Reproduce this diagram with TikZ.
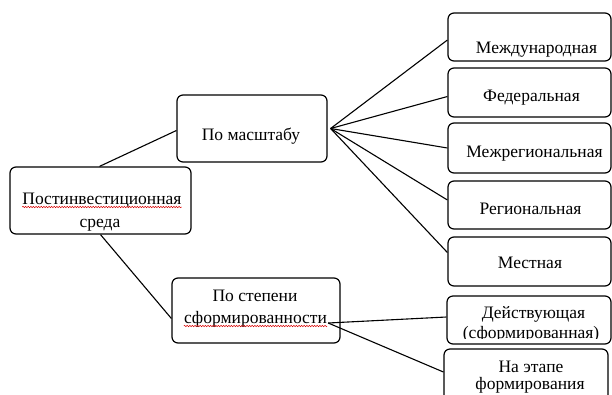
\documentclass[tikz,border=0pt]{standalone}
\usepackage{fontspec}
\setmainfont{Liberation Serif}
\usetikzlibrary{decorations.pathmorphing}
\tikzset{
  box/.style={draw=black, line width=1.2pt, rounded corners=6pt, inner sep=0pt},
  lbl/.style={anchor=base, inner sep=0pt, font=\fontsize{17.5pt}{21pt}\selectfont},
  link/.style={draw=black, line width=1.1pt},
  spell/.style={draw=red!85!black, line width=0.5pt, decorate,
    decoration={snake, amplitude=0.7pt, segment length=2.6pt}}
}
\begin{document}
\begin{tikzpicture}[x=1pt,y=-1pt]
\useasboundingbox (0,0) rectangle (612,394);
\clip (0,0) rectangle (612,394);

% boxes
\node[box, minimum width=181pt, minimum height=67pt] (root) at (100.5,200.5) {};
\node[box, minimum width=150pt, minimum height=67pt] (mas) at (252,128.5) {};
\node[box, minimum width=168pt, minimum height=65pt] (stp) at (256,310.5) {};
\node[box, minimum width=163pt, minimum height=48pt] (r1) at (529.5,37) {};
\node[box, minimum width=163pt, minimum height=49pt] (r2) at (529.5,92.5) {};
\node[box, minimum width=163pt, minimum height=50pt] (r3) at (529.5,148) {};
\node[box, minimum width=163pt, minimum height=48pt] (r4) at (529.5,205) {};
\node[box, minimum width=163pt, minimum height=49pt] (r5) at (529.5,261.5) {};
\node[box, minimum width=164pt, minimum height=48pt] (d1) at (529,320) {};
\node[box, minimum width=164pt, minimum height=54pt] (d2) at (526,376) {};

% labels
\node[lbl] (t0a) at (102,204) {Постинвестиционная};
\node[lbl] (t0b) at (100,227) {среда};
\node[lbl] (t1) at (251,140) {По масштабу};
\node[lbl] (t2a) at (255,301) {По степени};
\node[lbl] (t2b) at (255.5,323) {сформированности};
\node[lbl] (tr1) at (536.5,53) {Международная};
\node[lbl] (tr2) at (531.5,101) {Федеральная};
\node[lbl] (tr3) at (534.5,157) {Межрегиональная};
\node[lbl] (tr4) at (530.5,214) {Региональная};
\node[lbl] (tr5) at (530,268) {Местная};
\node[lbl] (td1a) at (533.5,318) {Действующая};
\begin{scope}
  \clip (d1.north west) rectangle (611,338.8);
  \node[lbl] (td1b) at (531,338.5) {(сформированная)};
\end{scope}
\node[lbl] (td2a) at (531,372) {На этапе};
\node[lbl] (td2b) at (530,389) {формирования};

% spell-check underlines
\draw[spell] ([yshift=-3pt]t0a.base west) -- ([yshift=-3pt]t0a.base east);
\draw[spell] ([yshift=-3pt]t2b.base west) -- ([yshift=-3pt]t2b.base east);

% connectors
\draw[link] ([xshift=-1pt]root.north) -- ([yshift=-2pt]mas.west);
\draw[link] (root.south) -- ([yshift=-8pt]stp.west);

\coordinate (hubA) at ([xshift=3pt]mas.east);
\draw[link] (hubA) -- ([yshift=-3pt]r1.west);
\draw[link] (hubA) -- ([yshift=-4pt]r2.west);
\draw[link] (hubA) -- (r3.west);
\draw[link] (hubA) -- ([yshift=5pt]r4.west);
\draw[link] (hubA) -- ([yshift=9pt]r5.west);

\coordinate (hubB) at ([xshift=1pt]t2b.base east);
\draw[link] (hubB) -- ([yshift=3pt]d1.west);
\draw[link] (hubB) -- ([yshift=4pt]d2.west);
\end{tikzpicture}
\end{document}
